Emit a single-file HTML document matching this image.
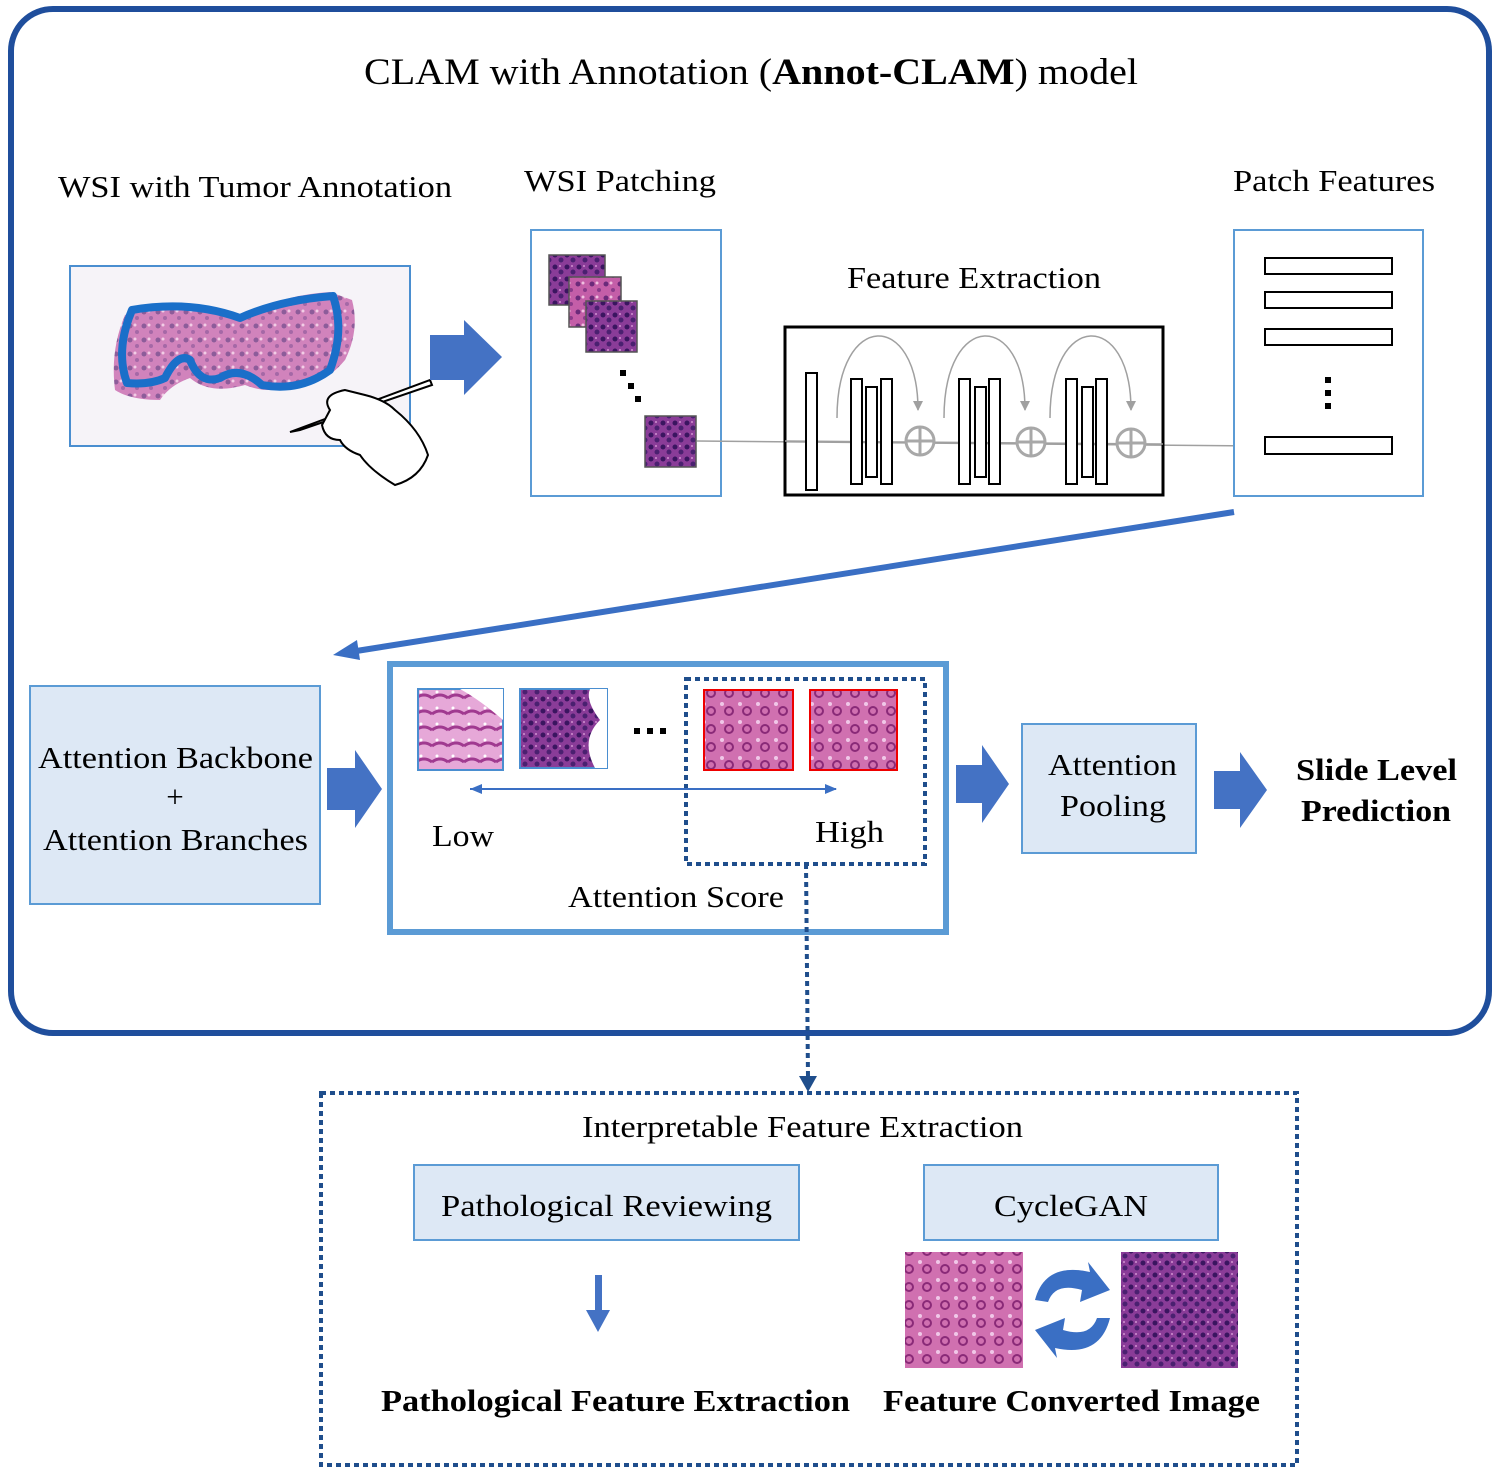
<!DOCTYPE html>
<html><head><meta charset="utf-8"><style>
body{margin:0;background:#fff}
svg{display:block}
text{font-family:"Liberation Serif",serif;fill:#000}
</style></head><body>
<svg width="1499" height="1476" viewBox="0 0 1499 1476" xmlns="http://www.w3.org/2000/svg">
<defs>
<pattern id="pk" width="14" height="14" patternUnits="userSpaceOnUse"><rect width="14" height="14" fill="#c45ea8"/><circle cx="4" cy="4" r="2.5" fill="#6a2a7a"/><circle cx="11" cy="10" r="2" fill="#8a3a8a"/><circle cx="9" cy="3" r="1.5" fill="#f0c0e0"/></pattern>
<pattern id="pu" width="12" height="12" patternUnits="userSpaceOnUse"><rect width="12" height="12" fill="#8a3c98"/><circle cx="3" cy="3" r="2.5" fill="#3a1560"/><circle cx="9" cy="8" r="2.5" fill="#4a2070"/><circle cx="8" cy="2" r="1" fill="#d090d0"/></pattern>
<pattern id="lt" width="16" height="16" patternUnits="userSpaceOnUse"><rect width="16" height="16" fill="#e6a8d8"/><path d="M0 10 Q8 4 16 10" stroke="#a03a90" stroke-width="3" fill="none"/><circle cx="5" cy="4" r="1.5" fill="#fff"/></pattern>
<pattern id="ht" width="18" height="18" patternUnits="userSpaceOnUse"><rect width="18" height="18" fill="#d070b0"/><circle cx="9" cy="9" r="4" fill="none" stroke="#8a2a78" stroke-width="2"/><circle cx="2" cy="2" r="2" fill="#f0c8e8"/></pattern>
<marker id="ga" markerWidth="10" markerHeight="10" refX="9" refY="5" orient="auto" markerUnits="userSpaceOnUse"><path d="M0 0L10 5L0 10z" fill="#a0a0a0"/></marker>
<marker id="bl" markerWidth="12" markerHeight="10" refX="11" refY="5" orient="auto" markerUnits="userSpaceOnUse"><path d="M0 0L12 5L0 10z" fill="#3a6fc4"/></marker>
</defs>

<rect x="11" y="9" width="1478" height="1024" rx="42" fill="#fff" stroke="#1f4e9c" stroke-width="6"/>
<text x="364" y="84" font-size="37" textLength="774" lengthAdjust="spacingAndGlyphs">CLAM with Annotation (<tspan font-weight="bold">Annot-CLAM</tspan>) model</text>

<text x="58" y="197" font-size="31" textLength="394" lengthAdjust="spacingAndGlyphs">WSI with Tumor Annotation</text>
<text x="524" y="191" font-size="31" textLength="192" lengthAdjust="spacingAndGlyphs">WSI Patching</text>
<text x="1233" y="191" font-size="31" textLength="202" lengthAdjust="spacingAndGlyphs">Patch Features</text>
<text x="847" y="288" font-size="31" textLength="254" lengthAdjust="spacingAndGlyphs">Feature Extraction</text>

<!-- WSI -->
<rect x="70" y="266" width="340" height="180" fill="#f6f3f8" stroke="#4a8ed0" stroke-width="2"/>
<path d="M125 315 Q180 295 240 318 Q280 295 330 292 L352 300 Q360 330 345 360 Q320 390 290 385 Q270 395 245 385 Q210 395 190 378 Q170 385 160 400 Q130 400 115 390 Q110 350 125 315z" fill="url(#pk)" opacity="0.75"/>
<path d="M132 310 Q190 300 240 318 Q280 300 333 296 Q345 330 330 370 Q300 392 262 385 Q240 365 220 378 Q200 385 190 360 Q178 352 165 378 Q150 385 127 383 Q115 350 132 310z" fill="none" stroke="#1a6fc9" stroke-width="8" stroke-linejoin="round"/>
<path d="M290 432 L430 380 L432 385 L300 430z" fill="#fff" stroke="#000" stroke-width="2"/>
<path d="M330 410 Q320 395 345 390 L365 395 Q385 400 395 410 Q420 430 428 455 Q420 478 395 485 Q370 470 360 455 Q345 450 340 440 Q325 440 322 425z" fill="#fff" stroke="#000" stroke-width="2"/>

<path d="M430 335 H464 V320 L502 357 L464 395 V380 H430z" fill="#4472c4"/>

<!-- patching -->
<rect x="531" y="230" width="190" height="266" fill="#fff" stroke="#5b9bd5" stroke-width="2"/>
<rect x="549" y="255" width="56" height="50" fill="url(#pu)" stroke="#555" stroke-width="1.5"/>
<rect x="569" y="277" width="52" height="50" fill="url(#pk)" stroke="#555" stroke-width="1.5"/>
<rect x="586" y="301" width="51" height="51" fill="url(#pu)" stroke="#555" stroke-width="1.5"/>
<rect x="620" y="370" width="6" height="6" fill="#000"/><rect x="628" y="383" width="6" height="6" fill="#000"/><rect x="635" y="396" width="6" height="6" fill="#000"/>
<rect x="645" y="416" width="51" height="51" fill="url(#pu)" stroke="#555" stroke-width="1.5"/>
<line x1="697" y1="441" x2="1260" y2="446" stroke="#a0a0a0" stroke-width="1.5" marker-end="url(#ga)"/>

<!-- network -->
<rect x="785" y="327" width="378" height="168" fill="none" stroke="#000" stroke-width="3"/>
<line x1="785" y1="441" x2="1163" y2="444" stroke="#a0a0a0" stroke-width="1.5"/>
<rect x="806" y="373" width="11" height="117" fill="#fff" stroke="#000" stroke-width="2"/>
<g fill="#fff" stroke="#000" stroke-width="2">
<rect x="851" y="379" width="11" height="105"/><rect x="866" y="387" width="11" height="90"/><rect x="881" y="379" width="11" height="105"/>
<rect x="959" y="379" width="11" height="105"/><rect x="975" y="387" width="11" height="90"/><rect x="989" y="379" width="11" height="105"/>
<rect x="1066" y="379" width="11" height="105"/><rect x="1082" y="387" width="11" height="90"/><rect x="1096" y="379" width="11" height="105"/>
</g>
<g fill="none" stroke="#a0a0a0" stroke-width="1.5">
<path d="M837 418 C837 310 918 310 918 410" marker-end="url(#ga)"/>
<path d="M944 418 C944 310 1025 310 1025 410" marker-end="url(#ga)"/>
<path d="M1050 418 C1050 310 1131 310 1131 410" marker-end="url(#ga)"/>
</g>
<g fill="#fff" stroke="#a8a8a8" stroke-width="3">
<circle cx="920" cy="441" r="14"/><circle cx="1031" cy="442" r="14"/><circle cx="1131" cy="443" r="14"/>
<path d="M906 441H934M920 427V455M1017 442H1045M1031 428V456M1117 443H1145M1131 429V457" fill="none"/>
</g>

<!-- patch features -->
<rect x="1234" y="230" width="189" height="266" fill="#fff" stroke="#5b9bd5" stroke-width="2"/>
<g fill="#fff" stroke="#000" stroke-width="2">
<rect x="1265" y="258" width="127" height="16"/><rect x="1265" y="292" width="127" height="16"/><rect x="1265" y="329" width="127" height="16"/><rect x="1265" y="437" width="127" height="17"/>
</g>
<rect x="1325" y="377" width="6" height="6"/><rect x="1325" y="390" width="6" height="6"/><rect x="1325" y="403" width="6" height="6"/>

<!-- long arrow -->
<line x1="1234" y1="512" x2="350" y2="652" stroke="#3a6fc4" stroke-width="6"/>
<path d="M333 655 L357 640 L360 660z" fill="#3a6fc4"/>

<!-- attention backbone -->
<rect x="30" y="686" width="290" height="218" fill="#dde8f5" stroke="#5b9bd5" stroke-width="2"/>
<text x="38" y="768" font-size="31" textLength="275" lengthAdjust="spacingAndGlyphs">Attention Backbone</text>
<text x="175" y="807" font-size="31" text-anchor="middle">+</text>
<text x="43" y="850" font-size="31" textLength="265" lengthAdjust="spacingAndGlyphs">Attention Branches</text>
<path d="M327 768 H355 V750 L382 789 L355 828 V810 H327z" fill="#4472c4"/>

<rect x="390" y="664" width="556" height="268" fill="#fff" stroke="#5b9bd5" stroke-width="6"/>
<rect x="418" y="689" width="85" height="81" fill="url(#lt)" stroke="#4a8ed0" stroke-width="2"/>
<path d="M460 689 L503 689 L503 720 Q480 700 460 689z" fill="#fff"/>
<rect x="520" y="689" width="87" height="79" fill="url(#pu)" stroke="#4a8ed0" stroke-width="2"/>
<path d="M590 689 L607 689 L607 768 L595 768 Q580 740 600 720 Q585 700 590 689z" fill="#fff"/>
<rect x="634" y="728" width="6" height="6"/><rect x="647" y="728" width="6" height="6"/><rect x="660" y="728" width="6" height="6"/>
<rect x="704" y="690" width="89" height="80" fill="url(#ht)" stroke="#e00" stroke-width="2"/>
<rect x="810" y="690" width="87" height="80" fill="url(#ht)" stroke="#e00" stroke-width="2"/>
<rect x="686" y="679" width="239" height="185" fill="none" stroke="#1f4e8c" stroke-width="4" stroke-dasharray="5 4"/>
<line x1="470" y1="789" x2="836" y2="789" stroke="#3a6fc4" stroke-width="2" marker-end="url(#bl)"/>
<path d="M470 789 L482 784 L482 794z" fill="#3a6fc4"/>
<text x="432" y="846" font-size="31" textLength="62" lengthAdjust="spacingAndGlyphs">Low</text>
<text x="815" y="842" font-size="31" textLength="69" lengthAdjust="spacingAndGlyphs">High</text>
<text x="568" y="907" font-size="31" textLength="216" lengthAdjust="spacingAndGlyphs">Attention Score</text>

<path d="M956 765 H982 V745 L1009 784 L982 823 V803 H956z" fill="#4472c4"/>
<rect x="1022" y="724" width="174" height="129" fill="#dde8f5" stroke="#5b9bd5" stroke-width="2"/>
<text x="1048" y="775" font-size="31" textLength="129" lengthAdjust="spacingAndGlyphs">Attention</text>
<text x="1060" y="816" font-size="31" textLength="106" lengthAdjust="spacingAndGlyphs">Pooling</text>
<path d="M1214 771 H1240 V752 L1267 790 L1240 828 V809 H1214z" fill="#4472c4"/>
<text x="1296" y="780" font-size="31" font-weight="bold" textLength="161" lengthAdjust="spacingAndGlyphs">Slide Level</text>
<text x="1301" y="821" font-size="31" font-weight="bold" textLength="150" lengthAdjust="spacingAndGlyphs">Prediction</text>

<line x1="806" y1="864" x2="808" y2="1078" stroke="#1f4e8c" stroke-width="4" stroke-dasharray="5 4"/>
<path d="M799 1076 L817 1076 L808 1092z" fill="#1f4e8c"/>

<!-- bottom -->
<rect x="321" y="1093" width="976" height="372" fill="none" stroke="#1f4e8c" stroke-width="4" stroke-dasharray="5 4"/>
<text x="582" y="1137" font-size="31" textLength="441" lengthAdjust="spacingAndGlyphs">Interpretable Feature Extraction</text>
<rect x="414" y="1165" width="385" height="75" fill="#dde8f5" stroke="#5b9bd5" stroke-width="2"/>
<text x="441" y="1216" font-size="31" textLength="331" lengthAdjust="spacingAndGlyphs">Pathological Reviewing</text>
<rect x="924" y="1165" width="294" height="75" fill="#dde8f5" stroke="#5b9bd5" stroke-width="2"/>
<text x="994" y="1216" font-size="31" textLength="154" lengthAdjust="spacingAndGlyphs">CycleGAN</text>
<path d="M595 1275 H602 V1310 H610 L598 1332 L586 1310 H595z" fill="#4472c4"/>
<rect x="905" y="1252" width="118" height="116" fill="url(#ht)"/>
<rect x="1121" y="1252" width="117" height="116" fill="url(#pu)"/>
<path d="M1035 1300 Q1045 1262 1090 1272 L1088 1262 L1110 1290 L1080 1302 L1082 1290 Q1055 1282 1048 1302z" fill="#3a6fc4"/>
<path d="M1110 1318 Q1100 1358 1055 1348 L1057 1358 L1035 1330 L1065 1318 L1063 1330 Q1090 1338 1097 1318z" fill="#3a6fc4"/>
<text x="381" y="1411" font-size="31" font-weight="bold" textLength="469" lengthAdjust="spacingAndGlyphs">Pathological Feature Extraction</text>
<text x="883" y="1411" font-size="31" font-weight="bold" textLength="377" lengthAdjust="spacingAndGlyphs">Feature Converted Image</text>
</svg>
</body></html>
